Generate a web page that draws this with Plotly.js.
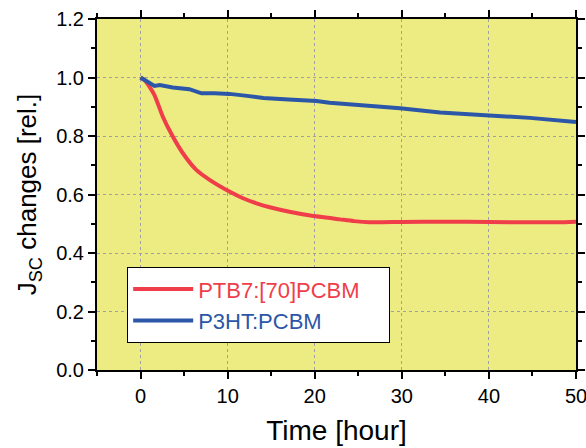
<!DOCTYPE html>
<html><head><meta charset="utf-8">
<script src="https://cdn.plot.ly/plotly-3.0.1.min.js"></script>
<style>html,body{margin:0;padding:0;background:#fff}#c{width:586px;height:448px}</style>
</head><body><div id="c"></div>
<script>
const ptb7Time = [0, 0.5, 1.0, 1.6, 2.56, 3.7, 4.86, 6.4, 7.93, 10.2, 11.7, 13.3, 15.2, 17.1, 19.5, 22.9, 24.5, 26.3, 30, 35, 40, 45, 48, 50];
const ptb7Jsc  = [1.0, 0.99, 0.97, 0.94, 0.866, 0.798, 0.741, 0.684, 0.65, 0.61, 0.588, 0.57, 0.554, 0.541, 0.528, 0.515, 0.509, 0.505, 0.506, 0.507, 0.506, 0.505, 0.505, 0.507];
const p3htTime = [0, 1.03, 1.6, 2.2, 3.7, 5.6, 6.4, 7.0, 8.5, 10.2, 12.0, 14.1, 17.0, 20.2, 21.7, 25.0, 29.8, 34.4, 39.7, 44.7, 50];
const p3htJsc  = [1.0, 0.98, 0.971, 0.974, 0.966, 0.96, 0.952, 0.946, 0.946, 0.944, 0.938, 0.93, 0.925, 0.92, 0.914, 0.906, 0.895, 0.88, 0.872, 0.862, 0.848];
const seriesNames = ['PTB7:[70]PCBM', 'P3HT:PCBM'];
const seriesColors = ['#ef3e4a', '#2c56a8'];
const xTicks = [0, 10, 20, 30, 40, 50];
const yTicks = [0.0, 0.2, 0.4, 0.6, 0.8, 1.0, 1.2];
const FONT = 'Liberation Sans, Arial, sans-serif';
const legendPad = '&nbsp;&nbsp;&nbsp;&nbsp;';

const traces = [
  {x: ptb7Time, y: ptb7Jsc, mode: 'lines', line: {color: seriesColors[0], width: 4, shape: 'spline', smoothing: 0.6},
   name: '<span style="color:' + seriesColors[0] + '">' + seriesNames[0] + '</span>' + legendPad},
  {x: p3htTime, y: p3htJsc, mode: 'lines', line: {color: seriesColors[1], width: 4},
   name: '<span style="color:' + seriesColors[1] + '">' + seriesNames[1] + '</span>'}
];
const axisCommon = {
  showline: true, linecolor: '#000', linewidth: 2, mirror: 'ticks',
  ticks: 'outside', ticklen: 7, tickwidth: 2, tickcolor: '#000',
  showgrid: true, gridcolor: '#a0a0a0', griddash: 'dot', gridwidth: 1,
  zeroline: false, ticklabeloverflow: 'allow',
  tickfont: {family: FONT, size: 20, color: '#000'}
};
const layout = {
  width: 586, height: 448,
  margin: {l: 97, r: 10, t: 19, b: 78},
  paper_bgcolor: '#fff', plot_bgcolor: '#ecec82',
  showlegend: true,
  legend: {x: 0.063, y: 0.293, xanchor: 'left', yanchor: 'top', bgcolor: '#fff', bordercolor: '#000', borderwidth: 1,
    font: {family: FONT, size: 22}, itemwidth: 60, tracegroupgap: 0},
  xaxis: Object.assign({}, axisCommon, {range: [-5, 50], tickvals: xTicks, ticktext: xTicks.map(String),
    minor: {ticks: 'outside', dtick: 5, tick0: 0, ticklen: 4, tickwidth: 2, tickcolor: '#000', showgrid: false},
    title: {text: 'Time [hour]', font: {family: FONT, size: 28, color: '#000'}, standoff: 14}}),
  yaxis: Object.assign({}, axisCommon, {range: [0, 1.2], tickvals: yTicks, ticktext: yTicks.map(v => v.toFixed(1)),
    minor: {ticks: 'outside', dtick: 0.1, tick0: 0, ticklen: 4, tickwidth: 2, tickcolor: '#000', showgrid: false},
    title: {text: 'J<sub>SC</sub> changes [rel.]', font: {family: FONT, size: 26, color: '#000'}, standoff: 12}})
};
Plotly.newPlot('c', traces, layout, {staticPlot: true, displayModeBar: false});
</script></body></html>
